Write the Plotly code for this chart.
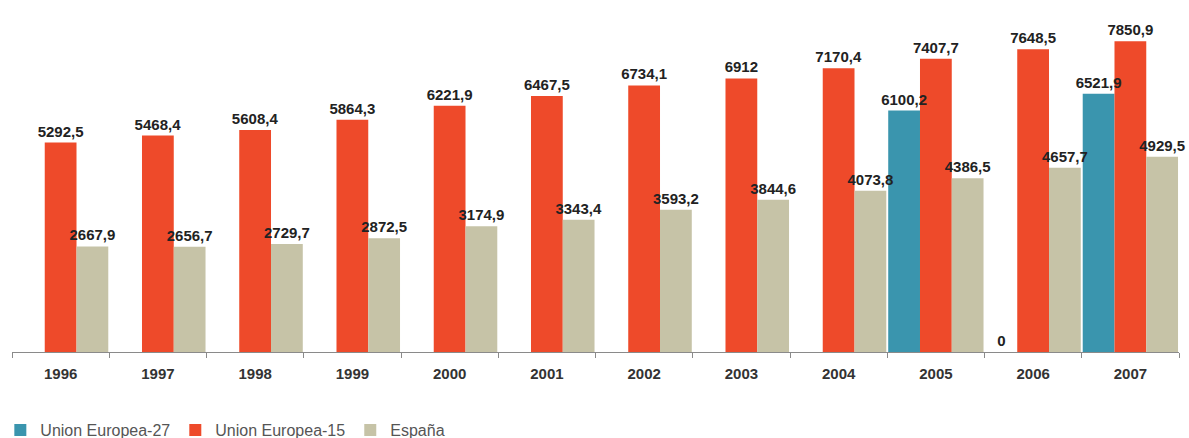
import plotly.graph_objects as go

years = ["1996", "1997", "1998", "1999", "2000", "2001", "2002", "2003",
         "2004", "2005", "2006", "2007"]
ue27 = [None, None, None, None, None, None, None, None, None, 6100.2, 0, 6521.9]
ue15 = [5292.5, 5468.4, 5608.4, 5864.3, 6221.9, 6467.5, 6734.1, 6912,
        7170.4, 7407.7, 7648.5, 7850.9]
espana = [2667.9, 2656.7, 2729.7, 2872.5, 3174.9, 3343.4, 3593.2, 3844.6,
          4073.8, 4386.5, 4657.7, 4929.5]

names = ["Union Europea-27", "Union Europea-15", "España"]
colors = ["#3A95AE", "#EE4A2A", "#C6C3A7"]
groups = ["g27", "g15", "ges"]


def fmt(v):
    if v is None:
        return ""
    return f"{v:g}".replace(".", ",")


FONT = "Liberation Sans, Arial, sans-serif"
series = [ue27, ue15, espana]

fig = go.Figure()
# bars
for name, vals, col, grp in zip(names, series, colors, groups):
    fig.add_trace(go.Bar(
        x=years, y=vals, name=name, offsetgroup=grp,
        marker=dict(color=col, line=dict(width=0)),
        hoverinfo="skip",
    ))
# data labels drawn on top of all bars
for name, vals, grp in zip(names, series, groups):
    fig.add_trace(go.Bar(
        x=years, y=vals, name=name, offsetgroup=grp, showlegend=False,
        marker=dict(color="rgba(0,0,0,0)", line=dict(width=0)),
        text=[fmt(v) for v in vals],
        textposition="outside",
        constraintext="none",
        cliponaxis=False,
        textfont=dict(family=FONT, size=15, color="#222222", weight="bold"),
        hoverinfo="skip",
    ))

fig.update_layout(
    width=1189, height=438,
    margin=dict(l=12, r=10, t=10, b=86, autoexpand=False),
    paper_bgcolor="white", plot_bgcolor="white",
    barmode="group", bargap=0.02, bargroupgap=0,
    font=dict(family=FONT),
    showlegend=True,
    legend=dict(
        orientation="h", x=-0.010, xanchor="left", y=-0.228, yanchor="middle",
        font=dict(family=FONT, size=16, color="#555555"),
        traceorder="normal",
        bgcolor="rgba(0,0,0,0)",
    ),
    xaxis=dict(
        type="category",
        showline=True, linecolor="#8a8a8a", linewidth=1,
        ticks="outside", tickson="boundaries", ticklen=5, tickcolor="#8a8a8a",
        tickfont=dict(family=FONT, size=15, color="#333333", weight="bold"),
        ticklabelstandoff=8,
        showgrid=False, zeroline=False, automargin=False,
    ),
    yaxis=dict(
        range=[0, 8640], visible=False, showgrid=False, zeroline=False,
    ),
)

fig.write_html("out.html",
               config={"displayModeBar": False},
               post_script="document.body.style.margin='0';"
                           "document.body.style.overflow='hidden';")
